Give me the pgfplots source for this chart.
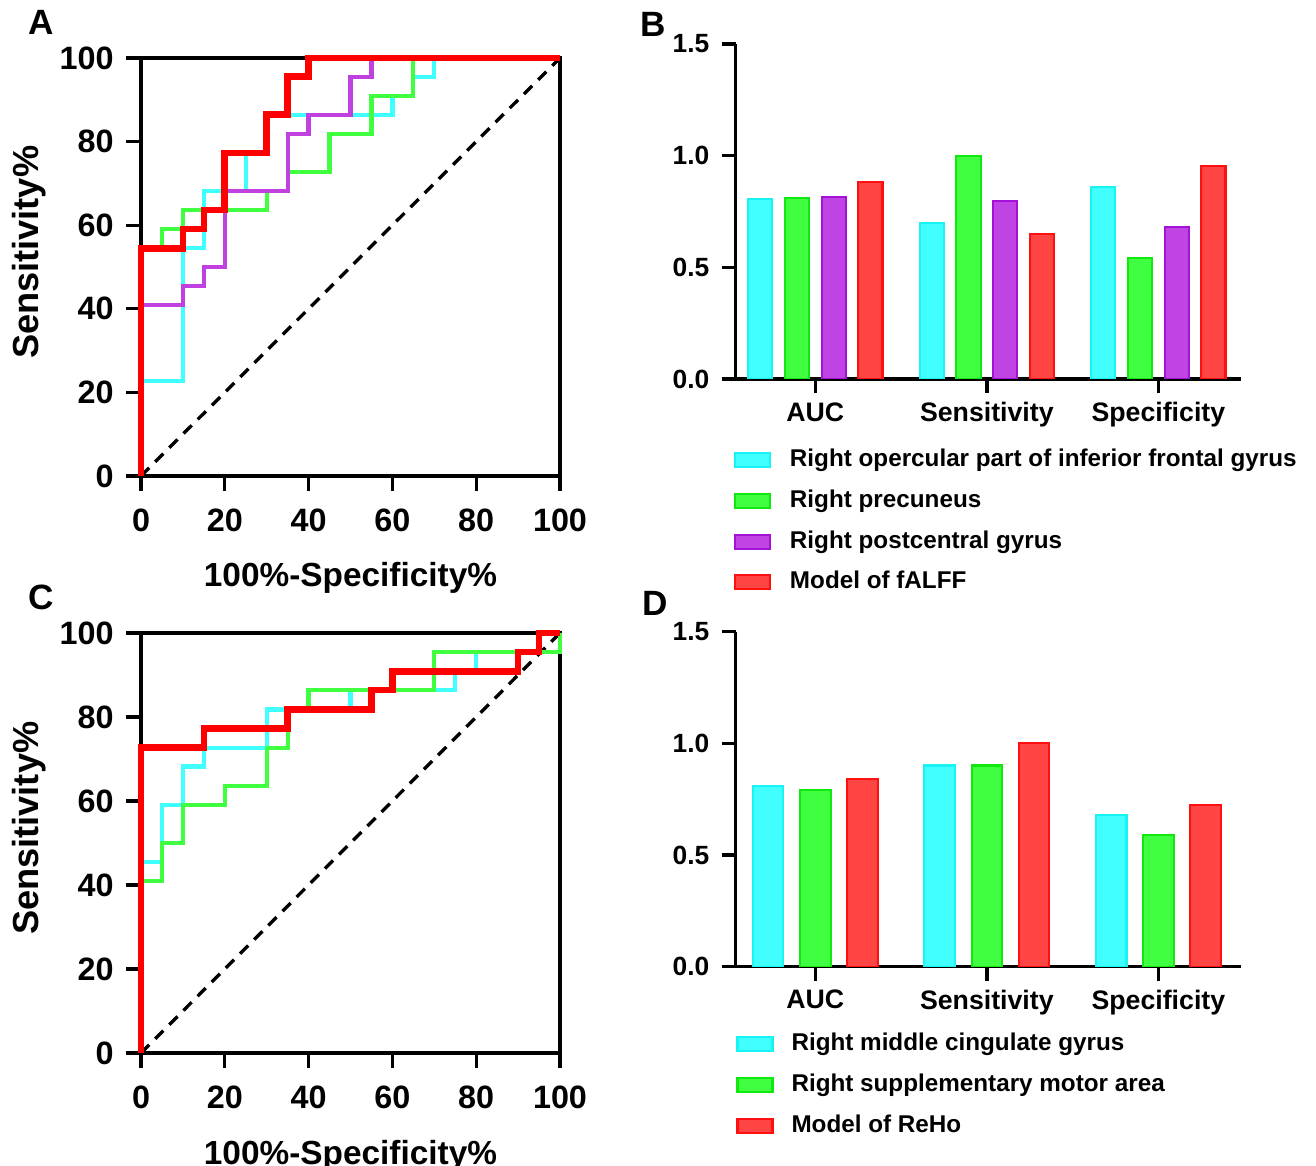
\documentclass[border=0pt]{standalone}
\usepackage{fontspec}
\setmainfont{Liberation Sans}
\usepackage{pgfplots}
\pgfplotsset{compat=1.18}

\definecolor{cyanL}{HTML}{40FFFF}
\definecolor{greenL}{HTML}{40FF40}
\definecolor{purpleL}{HTML}{C040E0}
\definecolor{cyanF}{HTML}{42FFFF}
\definecolor{cyanD}{HTML}{18F4F4}
\definecolor{greenF}{HTML}{40FF40}
\definecolor{greenD}{HTML}{10E810}
\definecolor{purpleF}{HTML}{C044E4}
\definecolor{purpleD}{HTML}{A412D8}
\definecolor{redF}{HTML}{FF4444}
\definecolor{redD}{HTML}{FF1010}

\newcommand{\fs}[1]{\fontsize{#1}{#1}\selectfont}

\pgfplotsset{
  roc/.style={
    scale only axis, width=4.19cm, height=4.18cm, anchor=south west,
    xmin=0, xmax=100, ymin=0, ymax=100,
    xtick={0,20,...,100}, ytick={0,20,...,100},
    tick pos=left, tick align=outside, major tick length=0.15cm,
    tick style={line width=0.95pt, black},
    axis line style={line width=0.95pt},
    clip=false,
    /pgf/number format/assume math mode=true,
    ticklabel style={font=\fs{9.2}\bfseries},
    xticklabel style={yshift=-0.06cm},
    xlabel={100\%-Specificity\%}, ylabel={Sensitivity\%},
    xlabel style={font=\fs{9.5}\bfseries, at={(axis description cs:0.5,-0.265)}, anchor=base},
    ylabel style={font=\fs{10.3}\bfseries, at={(axis description cs:-0.245,0.535)}, anchor=base},
  },
  thinroc/.style={line width=1.2pt, #1},
  redroc/.style={line width=1.9pt, red},
  diag/.style={line width=0.95pt, black, dash pattern=on 3.3pt off 2.4pt},
  barax/.style={
    scale only axis, width=5.05cm, height=3.35cm, anchor=south west,
    xmin=-0.464, xmax=2.48, ymin=0, ymax=1.5,
    axis x line=bottom, axis y line=left,
    axis line style={-, line width=0.95pt},
    xtick={0,1,2}, xticklabels={AUC,Sensitivity,Specificity},
    ytick={0,0.5,1,1.5},
    tick align=outside, major tick length=0.14cm,
    tick style={line width=0.95pt, black},
    /pgf/number format/assume math mode=true,
    yticklabel style={font=\fs{7.5}\bfseries, /pgf/number format/.cd, fixed, fixed zerofill, precision=1},
    xticklabel style={font=\fs{7.6}\bfseries, yshift=0.03cm},
    ybar, bar width=0.141,
    legend cell align=left,
    legend image code/.code={\draw[##1, line width=0.6pt] (0cm,-0.07cm) rectangle (0.35cm,0.07cm);},
    legend style={draw=none, fill=none, font=\fs{6.9}\bfseries, inner sep=0pt,
      row sep=0.177cm, column sep=0.19cm,
      nodes={inner sep=0pt, text height=0.18cm, text depth=0.05cm}},
  },
}

\begin{document}
\begin{tikzpicture}
\useasboundingbox (0,0) rectangle (13.16,11.66);

% panel letters
\node[font=\fs{10}\bfseries] at (0.41,11.44) {A};
\node[font=\fs{10}\bfseries] at (6.53,11.42) {B};
\node[font=\fs{10}\bfseries] at (0.41,5.69) {C};
\node[font=\fs{10}\bfseries] at (6.55,5.63) {D};

% A: ROC fALFF
\begin{axis}[roc, at={(1.41cm,6.90cm)}]
\addplot[diag] coordinates {(0,0)(100,100)};
\addplot[thinroc=cyanL] coordinates {(0,0)(0,22.7)(10,22.7)(10,54.5)(15,54.5)(15,68.2)(25,68.2)(25,77.3)(30,77.3)(30,86.4)(60,86.4)(60,90.9)(65,90.9)(65,95.5)(70,95.5)(70,100)(100,100)};
\addplot[thinroc=greenL] coordinates {(0,0)(0,54.5)(5,54.5)(5,59.1)(10,59.1)(10,63.6)(30,63.6)(30,68.2)(35,68.2)(35,72.7)(45,72.7)(45,81.8)(55,81.8)(55,90.9)(65,90.9)(65,100)(100,100)};
\addplot[thinroc=purpleL] coordinates {(0,0)(0,40.9)(10,40.9)(10,45.5)(15,45.5)(15,50)(20,50)(20,68.2)(35,68.2)(35,81.8)(40,81.8)(40,86.4)(50,86.4)(50,95.5)(55,95.5)(55,100)(100,100)};
\addplot[redroc] coordinates {(0,0)(0,54.5)(10,54.5)(10,59.1)(15,59.1)(15,63.6)(20,63.6)(20,77.3)(30,77.3)(30,86.4)(35,86.4)(35,95.5)(40,95.5)(40,100)(100,100)};
\end{axis}

% C: ROC ReHo
\begin{axis}[roc, at={(1.41cm,1.13cm)}, height=4.20cm]
\addplot[diag] coordinates {(0,0)(100,100)};
\addplot[thinroc=cyanL] coordinates {(0,0)(0,45.5)(5,45.5)(5,59.1)(10,59.1)(10,68.2)(15,68.2)(15,72.7)(30,72.7)(30,81.8)(50,81.8)(50,86.4)(75,86.4)(75,90.9)(80,90.9)(80,95.5)(95,95.5)(95,100)(100,100)};
\addplot[thinroc=greenL] coordinates {(0,0)(0,40.9)(5,40.9)(5,50)(10,50)(10,59.1)(20,59.1)(20,63.6)(30,63.6)(30,72.7)(35,72.7)(35,81.8)(40,81.8)(40,86.4)(70,86.4)(70,95.5)(100,95.5)(100,100)};
\addplot[redroc] coordinates {(0,0)(0,72.7)(15,72.7)(15,77.3)(35,77.3)(35,81.8)(55,81.8)(55,86.4)(60,86.4)(60,90.9)(90,90.9)(90,95.5)(95,95.5)(95,100)(100,100)};
\end{axis}

% B: bars fALFF
\begin{axis}[barax, at={(7.357cm,7.87cm)},
  legend style={at={(axis description cs:-0.005,-0.206)}, anchor=north west}]
\addplot[fill=cyanF, draw=cyanD, line width=0.6pt, bar shift=-0.321] coordinates {(0,0.807)(1,0.700)(2,0.861)};
\addplot[fill=greenF, draw=greenD, line width=0.6pt, bar shift=-0.107] coordinates {(0,0.810)(1,1.000)(2,0.541)};
\addplot[fill=purpleF, draw=purpleD, line width=0.6pt, bar shift=0.107] coordinates {(0,0.814)(1,0.798)(2,0.679)};
\addplot[fill=redF, draw=redD, line width=0.6pt, bar shift=0.321] coordinates {(0,0.883)(1,0.648)(2,0.954)};
\legend{Right opercular part of inferior frontal gyrus,Right precuneus,Right postcentral gyrus,Model of fALFF}
\end{axis}

% D: bars ReHo
\begin{axis}[barax, at={(7.357cm,1.993cm)}, bar width=0.178,
  legend style={at={(axis description cs:0.0,-0.195)}, anchor=north west, column sep=0.18cm}]
\addplot[fill=cyanF, draw=cyanD, line width=0.6pt, bar shift=-0.275] coordinates {(0,0.810)(1,0.901)(2,0.681)};
\addplot[fill=greenF, draw=greenD, line width=0.6pt, bar shift=0] coordinates {(0,0.790)(1,0.901)(2,0.588)};
\addplot[fill=redF, draw=redD, line width=0.6pt, bar shift=0.275] coordinates {(0,0.840)(1,1.000)(2,0.725)};
\legend{Right middle cingulate gyrus,Right supplementary motor area,Model of ReHo}
\end{axis}
\end{tikzpicture}
\end{document}
